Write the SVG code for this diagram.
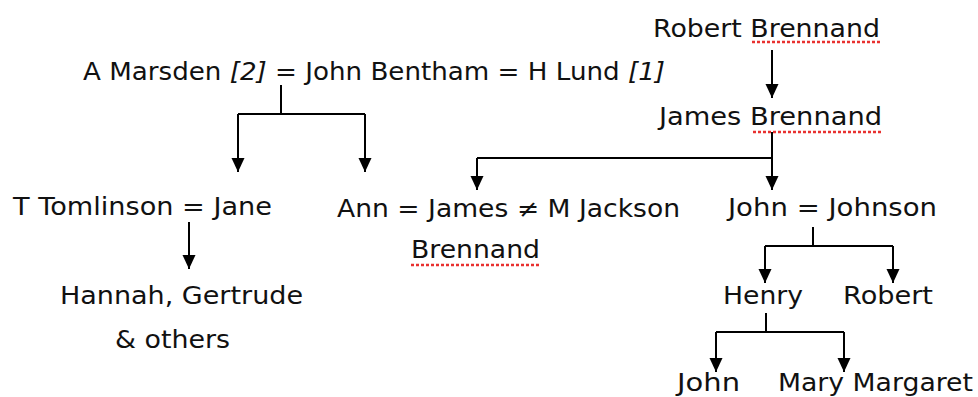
<svg xmlns="http://www.w3.org/2000/svg" width="978" height="397" viewBox="0 0 978 397">
  <style>
    text { font-family: "DejaVu Sans", "Liberation Sans", sans-serif; font-size: 24px; fill: #111; }
    .it { font-style: italic; }
    .conn path { fill: none; stroke: #000; stroke-width: 2; }
    .spell { fill: none; stroke: #e8312f; stroke-width: 2.5; stroke-dasharray: 3 2; }
  </style>
  <defs>
    <marker id="arrow" markerUnits="userSpaceOnUse" markerWidth="14" markerHeight="14" refX="14" refY="6.5" orient="auto">
      <path d="M0,0 L14,6.5 L0,13 Z" fill="#000"/>
    </marker>
  </defs>
  <rect width="978" height="397" fill="#fff"/>

  <g class="conn">
    <path d="M772,50 V98" marker-end="url(#arrow)"/>
    <path d="M281,85 V114"/>
    <path d="M238,114 H365"/>
    <path d="M238,114 V172" marker-end="url(#arrow)"/>
    <path d="M365,114 V172" marker-end="url(#arrow)"/>
    <path d="M772,132 V158 H477"/>
    <path d="M477,158 V190" marker-end="url(#arrow)"/>
    <path d="M772,158 V190" marker-end="url(#arrow)"/>
    <path d="M189,222 V269" marker-end="url(#arrow)"/>
    <path d="M813,227 V246"/>
    <path d="M765,246 H893"/>
    <path d="M765,246 V283" marker-end="url(#arrow)"/>
    <path d="M893,246 V283" marker-end="url(#arrow)"/>
    <path d="M766,313 V332"/>
    <path d="M716,332 H844"/>
    <path d="M716,332 V372" marker-end="url(#arrow)"/>
    <path d="M844,332 V372" marker-end="url(#arrow)"/>
  </g>

  <g id="robert-brennand">
    <text x="653" y="37" textLength="227" lengthAdjust="spacingAndGlyphs">Robert Brennand</text>
    <path class="spell" d="M752,42 H882"/>
  </g>
  <g id="james-brennand">
    <text x="659" y="125" textLength="223" lengthAdjust="spacingAndGlyphs">James Brennand</text>
    <path class="spell" d="M753,132 H882"/>
  </g>
  <g id="bentham">
    <text x="83" y="80" textLength="582" lengthAdjust="spacingAndGlyphs">A Marsden <tspan class="it">[2]</tspan> = John Bentham = H Lund <tspan class="it">[1]</tspan></text>
  </g>
  <g id="tomlinson-jane">
    <text x="13" y="215" textLength="259" lengthAdjust="spacingAndGlyphs">T Tomlinson = Jane</text>
  </g>
  <g id="ann-james">
    <text x="337" y="217" textLength="343" lengthAdjust="spacingAndGlyphs">Ann = James ≠ M Jackson</text>
    <text x="411" y="258" textLength="129" lengthAdjust="spacingAndGlyphs">Brennand</text>
    <path class="spell" d="M411,265 H540"/>
  </g>
  <g id="john-johnson">
    <text x="728" y="216" textLength="209" lengthAdjust="spacingAndGlyphs">John = Johnson</text>
  </g>
  <g id="hannah-gertrude">
    <text x="60" y="304" textLength="243" lengthAdjust="spacingAndGlyphs">Hannah, Gertrude</text>
    <text x="115" y="348" textLength="115" lengthAdjust="spacingAndGlyphs">&amp; others</text>
  </g>
  <g id="henry">
    <text x="723" y="304" textLength="80" lengthAdjust="spacingAndGlyphs">Henry</text>
  </g>
  <g id="robert">
    <text x="843" y="304" textLength="90" lengthAdjust="spacingAndGlyphs">Robert</text>
  </g>
  <g id="john">
    <text x="677" y="391" textLength="63" lengthAdjust="spacingAndGlyphs">John</text>
  </g>
  <g id="mary-margaret">
    <text x="778" y="391" textLength="195" lengthAdjust="spacingAndGlyphs">Mary Margaret</text>
  </g>
</svg>
